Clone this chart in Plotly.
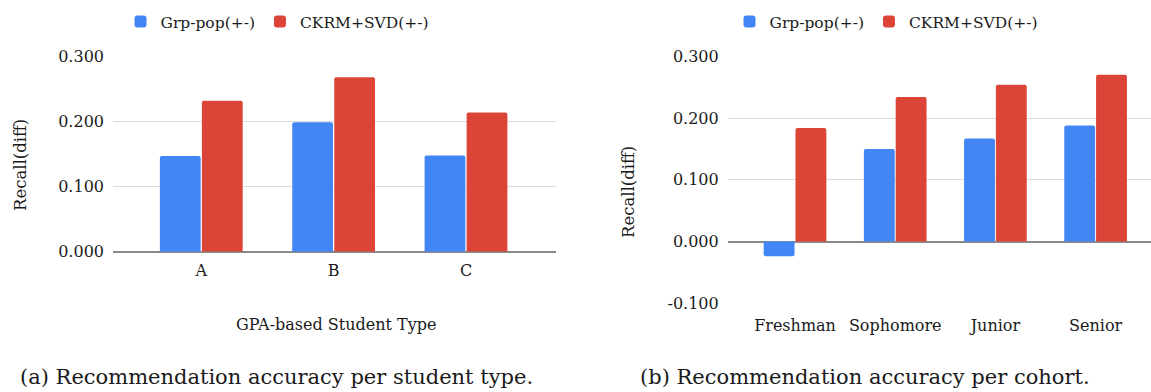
import plotly.graph_objects as go

# ---- data ----
gpa_types = ["A", "B", "C"]
gpa_grp_pop = [0.147, 0.199, 0.148]
gpa_ckrm_svd = [0.232, 0.268, 0.214]

cohorts = ["Freshman", "Sophomore", "Junior", "Senior"]
cohort_grp_pop = [-0.024, 0.150, 0.167, 0.188]
cohort_ckrm_svd = [0.184, 0.234, 0.254, 0.270]

left_ticks = [0.0, 0.1, 0.2, 0.3]
left_tick_labels = ["0.000", "0.100", "0.200", "0.300"]
right_ticks = [-0.1, 0.0, 0.1, 0.2, 0.3]
right_tick_labels = ["-0.100", "0.000", "0.100", "0.200", "0.300"]

series_names = ["Grp-pop(+-)", "CKRM+SVD(+-)"]
y_title = "Recall(diff)"
x_title_left = "GPA-based Student Type"
captions = ["(a) Recommendation accuracy per student type.",
            "(b) Recommendation accuracy per cohort."]

# ---- style ----
W, H = 1151, 392
BLUE = "#4285F4"
RED = "#DB4437"
FONT = "DejaVu Serif, Liberation Serif, Times New Roman, serif"
GRID = "#dcdcdc"
ZERO = "#8a8a8a"
TXT = "#1a1a1a"


def px_x(p):
    return p / W


def px_y(p):
    return 1 - p / H


fig = go.Figure()

for xs, ys, name, color, xa, ya, lg in [
    (gpa_types, gpa_grp_pop, series_names[0], BLUE, "x", "y", "legend"),
    (gpa_types, gpa_ckrm_svd, series_names[1], RED, "x", "y", "legend"),
    (cohorts, cohort_grp_pop, series_names[0], BLUE, "x2", "y2", "legend2"),
    (cohorts, cohort_ckrm_svd, series_names[1], RED, "x2", "y2", "legend2"),
]:
    fig.add_trace(go.Bar(x=xs, y=ys, name=name,
                         marker=dict(color=color, cornerradius=2, line=dict(width=0)),
                         xaxis=xa, yaxis=ya, legend=lg))

tickfont = dict(family=FONT, size=16, color=TXT)
legfont = dict(family=FONT, size=15.5, color=TXT)

fig.update_layout(
    template="none",
    width=W, height=H,
    margin=dict(l=0, r=0, t=0, b=0, pad=0, autoexpand=False),
    paper_bgcolor="white", plot_bgcolor="white",
    barmode="group", bargap=0.365, bargroupgap=0.03,
    font=dict(family=FONT, size=16, color=TXT),
    xaxis=dict(domain=[px_x(113), px_x(556)], range=[-0.667, 2.68],
               anchor="y", showgrid=False, showline=False, ticks="", zeroline=False,
               tickfont=tickfont, ticklabelstandoff=7, automargin=False),
    yaxis=dict(domain=[px_y(251.7), px_y(56.5)], range=[0, 0.3],
               anchor="x", tickvals=left_ticks, ticktext=left_tick_labels,
               showgrid=True, gridcolor=GRID, gridwidth=1,
               zeroline=True, zerolinecolor=ZERO, zerolinewidth=2,
               showline=False, ticks="", tickfont=tickfont, ticklabelstandoff=8,
               automargin=False),
    xaxis2=dict(domain=[px_x(727.7), 1.0], range=[-0.672, 3.553],
                anchor="y2", showgrid=False, showline=False, ticks="", zeroline=False,
                tickfont=tickfont, ticklabelstandoff=11, automargin=False),
    yaxis2=dict(domain=[px_y(303.3), px_y(56.3)], range=[-0.1, 0.3],
                anchor="x2", tickvals=right_ticks, ticktext=right_tick_labels,
                showgrid=True, gridcolor=GRID, gridwidth=1,
                zeroline=True, zerolinecolor=ZERO, zerolinewidth=2,
                showline=False, ticks="", tickfont=tickfont, ticklabelstandoff=8,
                automargin=False),
    legend=dict(orientation="h", x=px_x(277), xanchor="center",
                y=px_y(22), yanchor="middle", font=legfont,
                itemwidth=30, bgcolor="rgba(0,0,0,0)"),
    legend2=dict(orientation="h", x=px_x(886), xanchor="center",
                 y=px_y(22), yanchor="middle", font=legfont,
                 itemwidth=30, bgcolor="rgba(0,0,0,0)"),
)

annots = [
    dict(text=y_title, x=px_x(20), y=px_y(165), textangle=-90, size=16.5),
    dict(text=y_title, x=px_x(628), y=px_y(192), textangle=-90, size=16.5),
    dict(text=x_title_left, x=px_x(335.5), y=px_y(324), size=16),
    dict(text=captions[0], x=px_x(276), y=px_y(377), size=21),
    dict(text=captions[1], x=px_x(865), y=px_y(377), size=21),
]
for a in annots:
    size = a.pop("size")
    fig.add_annotation(xref="paper", yref="paper", showarrow=False,
                       xanchor="center", yanchor="middle",
                       font=dict(family=FONT, size=size, color=TXT), **a)

fig.write_html("out.html", config={"displayModeBar": False},
               post_script="document.body.style.margin='0';")
